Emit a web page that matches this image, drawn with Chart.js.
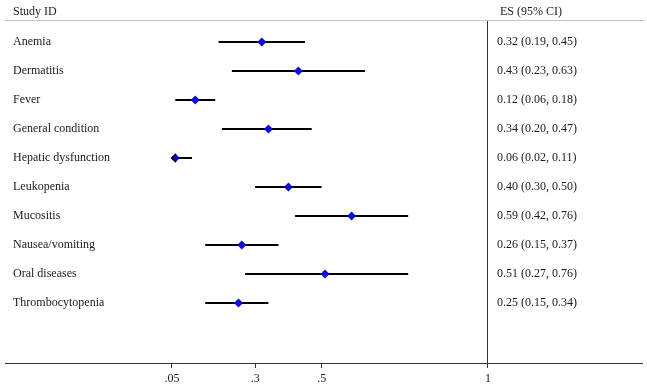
<!DOCTYPE html>
<html>
<head>
<meta charset="utf-8">
<script src="https://cdn.jsdelivr.net/npm/chart.js@4"></script>
<style>
  html, body { margin: 0; padding: 0; background: #fff; }
  #wrap { width: 647px; height: 389px; }
</style>
</head>
<body>
<div id="wrap"><canvas id="forest"></canvas></div>
<script>
const studies = ['Anemia', 'Dermatitis', 'Fever', 'General condition', 'Hepatic dysfunction',
  'Leukopenia', 'Mucositis', 'Nausea/vomiting', 'Oral diseases', 'Thrombocytopenia'];
const es = [0.32, 0.43, 0.12, 0.34, 0.06, 0.40, 0.59, 0.26, 0.51, 0.25];
const ciLow = [0.19, 0.23, 0.06, 0.20, 0.02, 0.30, 0.42, 0.15, 0.27, 0.15];
const ciHigh = [0.45, 0.63, 0.18, 0.47, 0.11, 0.50, 0.76, 0.37, 0.76, 0.34];
const tickValues = [0.05, 0.3, 0.5, 1];
const tickLabels = ['.05', '.3', '.5', '1'];

const FONT = "'Liberation Serif', 'Times New Roman', serif";
const clipLow = tickValues[0];

// one small line dataset per study for the CI whiskers
const ciSets = studies.map((s, i) => ({
  type: 'line',
  label: s + ' CI',
  data: [{ x: Math.max(ciLow[i], clipLow), y: i }, { x: ciHigh[i], y: i }],
  borderColor: '#000',
  borderWidth: 2,
  pointRadius: 0,
  showLine: true,
  order: 2
}));

const textPlugin = {
  id: 'forestText',
  afterDraw(chart) {
    const ctx = chart.ctx;
    const x = chart.scales.x, y = chart.scales.y;
    const area = chart.chartArea;
    ctx.save();
    // header rule
    ctx.strokeStyle = '#c8c8c8';
    ctx.lineWidth = 1;
    ctx.beginPath();
    ctx.moveTo(area.left, area.top + 0.5);
    ctx.lineTo(area.right + 3, area.top + 0.5);
    ctx.stroke();

    ctx.fillStyle = '#1a1a1a';
    ctx.font = '12px ' + FONT;
    ctx.textBaseline = 'middle';
    ctx.textAlign = 'left';
    ctx.fillText('Study ID', 13, 12);
    ctx.fillText('ES (95% CI)', 500, 12);
    studies.forEach((s, i) => {
      const py = y.getPixelForValue(i);
      ctx.fillText(s, 13, py);
      ctx.fillText(es[i].toFixed(2) + ' (' + ciLow[i].toFixed(2) + ', ' + ciHigh[i].toFixed(2) + ')', 497, py);
      // arrow where the CI runs past the axis range
      if (ciLow[i] < clipLow) {
        const ax = x.getPixelForValue(clipLow);
        ctx.strokeStyle = '#000';
        ctx.lineWidth = 1.5;
        ctx.beginPath();
        ctx.moveTo(ax + 4, py - 4);
        ctx.lineTo(ax, py);
        ctx.lineTo(ax + 4, py + 4);
        ctx.stroke();
      }
    });
    ctx.restore();
  }
};

new Chart(document.getElementById('forest'), {
  type: 'scatter',
  data: {
    datasets: [{
      label: 'ES',
      data: es.map((v, i) => ({ x: v, y: i })),
      pointStyle: 'rectRot',
      pointRadius: 4.5,
      pointHoverRadius: 4.5,
      backgroundColor: '#0c0cd6',
      borderColor: '#0c0cd6',
      borderWidth: 0,
      order: 0
    }, ...ciSets]
  },
  options: {
    responsive: true,
    maintainAspectRatio: false,
    animation: false,
    layout: { padding: { top: 20, left: 5, right: 5, bottom: 0 } },
    plugins: {
      legend: { display: false },
      tooltip: { enabled: false }
    },
    scales: {
      x: {
        type: 'linear',
        min: -0.452,
        max: 1.463,
        afterBuildTicks: scale => { scale.ticks = tickValues.map(v => ({ value: v })); },
        afterFit: scale => { scale.height = 26; },
        border: { display: true, color: '#333', width: 1 },
        grid: {
          drawOnChartArea: true,
          color: c => (c.tick && c.tick.value === 1 ? '#333' : 'rgba(0,0,0,0)'),
          tickColor: '#333',
          tickLength: 5,
          lineWidth: 1
        },
        ticks: {
          autoSkip: false,
          maxRotation: 0,
          padding: 4,
          color: '#1a1a1a',
          font: { family: FONT, size: 12 },
          callback: v => tickLabels[tickValues.indexOf(v)]
        }
      },
      y: {
        type: 'linear',
        reverse: true,
        min: -0.76,
        max: 11.07,
        display: false
      }
    }
  },
  plugins: [textPlugin]
});
</script>
</body>
</html>
